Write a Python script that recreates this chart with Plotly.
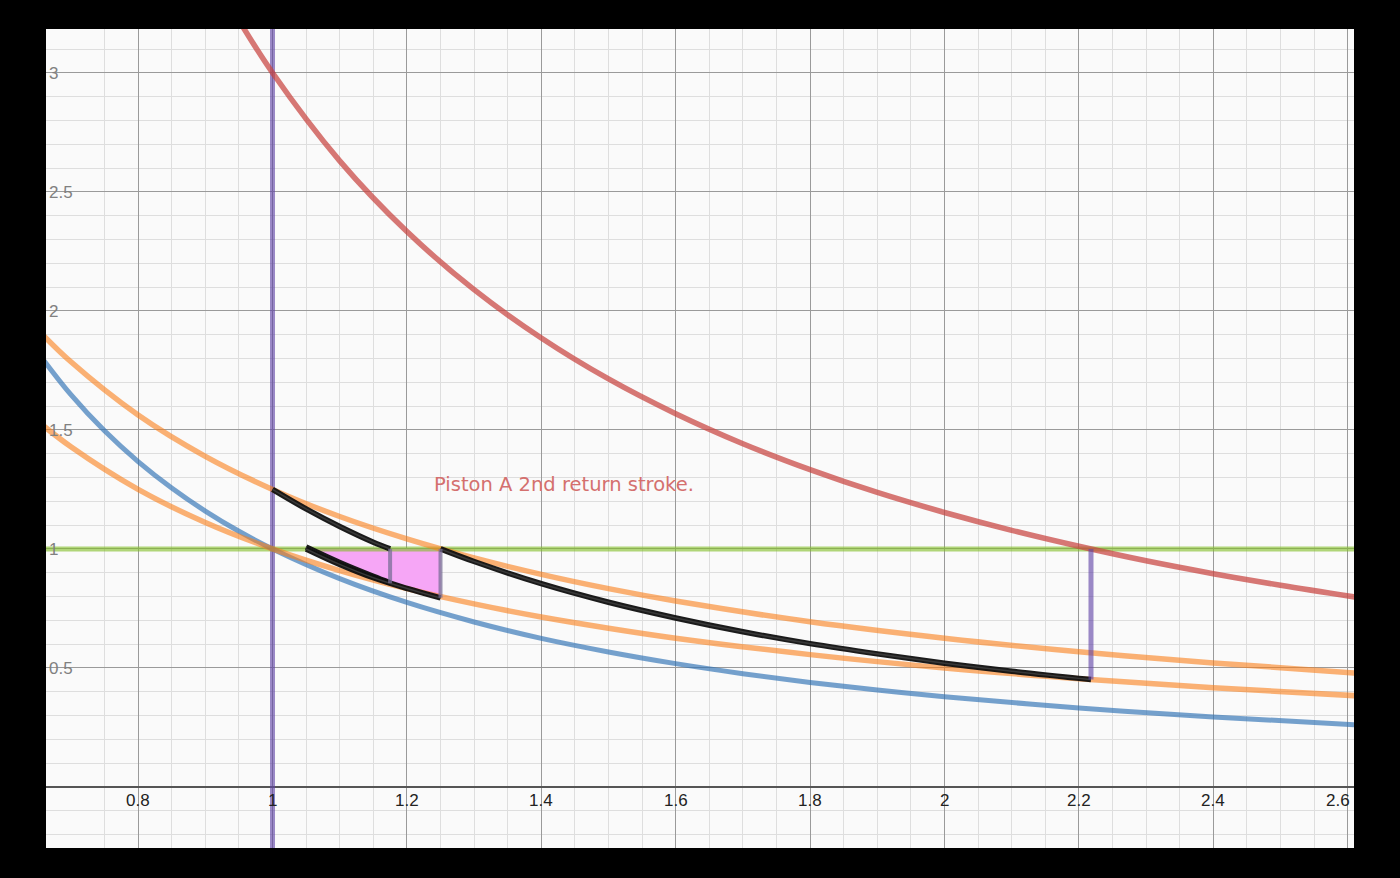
import plotly.graph_objects as go

# ---- data ----
red_x = [0.94, 1.0, 1.1, 1.2, 1.3, 1.4, 1.5, 1.6, 1.7, 1.8, 1.9, 2.0, 2.1, 2.2, 2.3, 2.4, 2.5, 2.62]
red_y = [3.267, 3.0, 2.630, 2.333, 2.089, 1.886, 1.714, 1.568, 1.442, 1.333, 1.237, 1.153, 1.078, 1.011, 0.950, 0.896, 0.847, 0.794]

blue_x = [0.65, 0.7, 0.75, 0.8, 0.85, 0.9, 0.95, 1.0, 1.1, 1.2, 1.3, 1.4, 1.5, 1.6, 1.7, 1.8, 1.9, 2.0, 2.2, 2.4, 2.62]
blue_y = [1.828, 1.648, 1.496, 1.367, 1.256, 1.159, 1.074, 1.0, 0.875, 0.775, 0.693, 0.624, 0.567, 0.518, 0.476, 0.439, 0.407, 0.379, 0.332, 0.294, 0.260]

orange_x = [0.65, 0.7, 0.8, 0.9, 1.0, 1.1, 1.2, 1.3, 1.4, 1.5, 1.6, 1.8, 2.0, 2.2, 2.4, 2.62]
orange_hi_y = [1.923, 1.786, 1.5625, 1.389, 1.25, 1.136, 1.042, 0.962, 0.893, 0.833, 0.781, 0.694, 0.625, 0.568, 0.521, 0.477]
orange_lo_y = [1.538, 1.429, 1.25, 1.111, 1.0, 0.909, 0.833, 0.769, 0.714, 0.667, 0.625, 0.556, 0.5, 0.455, 0.417, 0.382]

black1_x = [1.0, 1.05, 1.1, 1.15, 1.175]
black1_y = [1.25, 1.168, 1.094, 1.028, 1.0]
black2a_x = [1.05, 1.1, 1.15, 1.175]
black2a_y = [1.008, 0.943, 0.885, 0.858]
black2b_x = [1.05, 1.1, 1.15, 1.2, 1.25]
black2b_y = [1.0, 0.935, 0.879, 0.834, 0.794]
black3_x = [1.25, 1.3, 1.4, 1.5, 1.6, 1.7, 1.8, 1.9, 2.0, 2.1, 2.218]
black3_y = [1.0, 0.947, 0.854, 0.776, 0.710, 0.652, 0.602, 0.559, 0.520, 0.486, 0.451]

pink_x = [1.05, 1.1, 1.15, 1.2, 1.25, 1.25, 1.05]
pink_y = [1.0, 0.937, 0.883, 0.836, 0.795, 1.0, 1.0]

seg1_x = [1.175, 1.175]
seg1_y = [1.0, 0.856]
seg2_x = [1.25, 1.25]
seg2_y = [1.0, 0.795]
purple_seg_x = [2.218, 2.218]
purple_seg_y = [1.0, 0.451]
purple_vline_x = [1.0, 1.0]
purple_vline_y = [-0.5, 3.5]
green_hline_x = [0.5, 2.8]
green_hline_y = [1.0, 1.0]

x_tick_vals = [0.8, 1.0, 1.2, 1.4, 1.6, 1.8, 2.0, 2.2, 2.4, 2.6]
x_tick_text = ["0.8", "1", "1.2", "1.4", "1.6", "1.8", "2", "2.2", "2.4", "2.6"]
y_tick_vals = [0, 0.5, 1.0, 1.5, 2.0, 2.5, 3.0]
y_tick_text = ["", "0.5", "1", "1.5", "2", "2.5", "3"]

label_text = "Piston A 2nd return stroke."
label_x = 1.2374
label_y = 1.269

# ---- styles ----
RED = "rgba(199,68,64,0.72)"
BLUE = "rgba(45,112,179,0.65)"
ORANGE = "rgba(250,126,25,0.6)"
PURPLE = "rgba(96,66,166,0.62)"
GREEN = "rgba(130,190,40,0.62)"
BLACK = "rgba(15,15,15,0.95)"
BLACK_CORE = "rgba(60,60,60,0.9)"
PINK = "rgb(246,166,246)"

fig = go.Figure()


def line(x, y, color, width=5, shape="linear"):
    fig.add_trace(go.Scatter(x=x, y=y, mode="lines", hoverinfo="skip",
                             line=dict(color=color, width=width, shape=shape)))


def black_line(x, y):
    line(x, y, BLACK, 5.5, "spline")
    line(x, y, BLACK_CORE, 1.6, "spline")


fig.add_trace(go.Scatter(x=pink_x, y=pink_y, mode="lines", fill="toself",
                         fillcolor=PINK, line=dict(width=0), hoverinfo="skip"))
line(purple_vline_x, purple_vline_y, PURPLE, 5)
line(green_hline_x, green_hline_y, GREEN, 5)
line(blue_x, blue_y, BLUE, 5, "spline")
line(orange_x, orange_hi_y, ORANGE, 5.5, "spline")
line(orange_x, orange_lo_y, ORANGE, 5.5, "spline")
line(red_x, red_y, RED, 5.5, "spline")
black_line(black1_x, black1_y)
black_line(black2a_x, black2a_y)
black_line(black2b_x, black2b_y)
black_line(black3_x, black3_y)
line(seg1_x, seg1_y, "rgba(120,110,150,0.75)", 4)
line(seg2_x, seg2_y, "rgba(120,110,150,0.75)", 4)
line(purple_seg_x, purple_seg_y, PURPLE, 5)

annotations = []
for v, t in zip(x_tick_vals, x_tick_text):
    anchor = "right" if v == x_tick_vals[-1] else "center"
    annotations.append(dict(x=v, y=0, xref="x", yref="y", text=t, showarrow=False,
                            xanchor=anchor, yanchor="middle", yshift=-14,
                            xshift=4 if anchor == "right" else 0,
                            font=dict(family="Liberation Sans", size=17, color="#222")))
annotations.append(dict(x=label_x, y=label_y, xref="x", yref="y", text=label_text,
                        showarrow=False, xanchor="left", yanchor="middle",
                        font=dict(family="DejaVu Sans", size=19.5, color="rgb(212,112,110)")))

fig.update_layout(
    width=1400, height=878,
    margin=dict(l=46, r=46, t=29, b=30, pad=0),
    paper_bgcolor="black",
    plot_bgcolor="#fafafa",
    showlegend=False,
    hovermode=False,
    annotations=annotations,
    xaxis=dict(range=[0.66295, 2.60938], tickmode="linear", tick0=0, dtick=0.2,
               showgrid=True, gridcolor="#9a9a9a", gridwidth=1,
               minor=dict(tickmode="linear", tick0=0, dtick=0.05, showgrid=True,
                          gridcolor="#dedede", gridwidth=1),
               showticklabels=False, zeroline=False, showline=False, ticks="",
               fixedrange=True),
    yaxis=dict(range=[-0.2564, 3.184], tickmode="array", tickvals=y_tick_vals,
               ticktext=y_tick_text, showgrid=True, gridcolor="#9a9a9a", gridwidth=1,
               minor=dict(tickmode="linear", tick0=0, dtick=0.1, showgrid=True,
                          gridcolor="#dedede", gridwidth=1),
               zeroline=True, zerolinecolor="#555", zerolinewidth=2,
               ticklabelposition="inside", ticks="", showline=False,
               tickfont=dict(family="Liberation Sans", size=17, color="#808080"),
               fixedrange=True),
)

fig.write_html("out.html", config={"displayModeBar": False},
               post_script="document.body.style.margin='0';document.body.style.background='black';")
